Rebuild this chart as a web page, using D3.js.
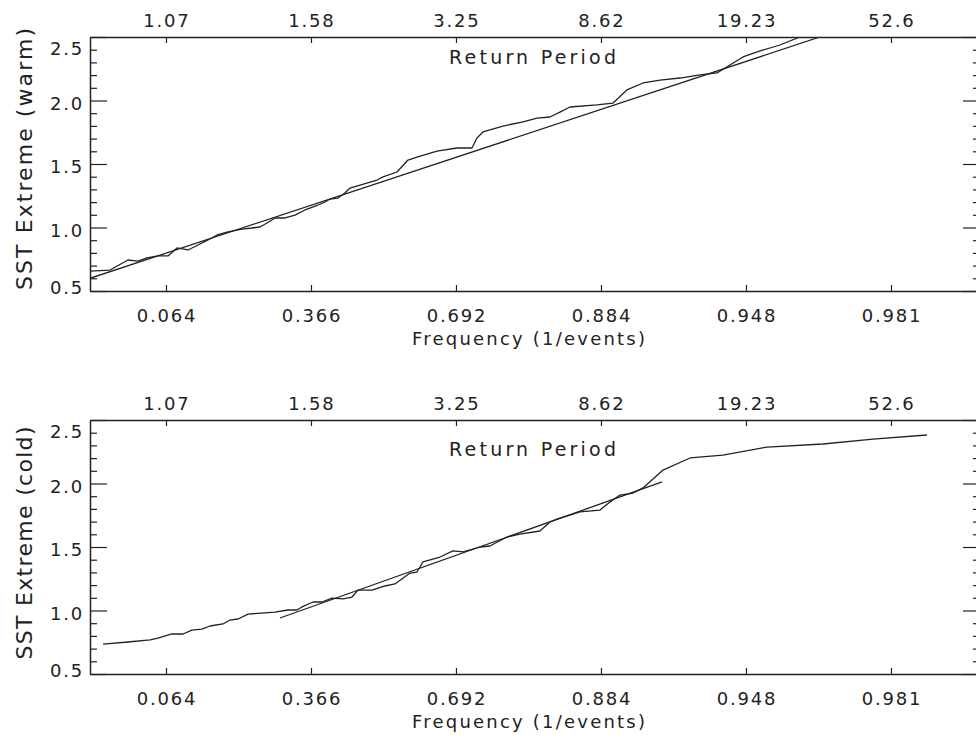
<!DOCTYPE html>
<html>
<head>
<meta charset="utf-8">
<script src="https://cdn.jsdelivr.net/npm/d3@7"></script>
<style>
  html, body { margin: 0; padding: 0; background: #fff; }
  svg { display: block; }
  text { font-family: "DejaVu Sans", sans-serif; fill: #222; }
</style>
</head>
<body>
<svg id="chart" width="976" height="743"></svg>
<script>
// ---- Data (x in Gumbel reduced-variate units; tick k sits at x = k) ----
const xTickValues = [-1, 0, 1, 2, 3, 4];
const freqLabels = ["0.064", "0.366", "0.692", "0.884", "0.948", "0.981"];
const periodLabels = ["1.07", "1.58", "3.25", "8.62", "19.23", "52.6"];
const yMajorTicks = [0.5, 1.0, 1.5, 2.0, 2.5];
const yMajorLabels = ["0.5", "1.0", "1.5", "2.0", "2.5"];

// warm extremes: empirical curve
const warmEmpX = [-1.524,-1.386,-1.262,-1.193,-1.131,-1.055,-0.986,-0.924,-0.848,-0.779,-0.710,-0.648,-0.572,-0.476,-0.407,-0.352,-0.303,-0.248,-0.179,-0.110,-0.041,0.048,0.097,0.131,0.186,0.234,0.269,0.455,0.497,0.593,0.669,0.731,0.869,1.007,1.110,1.145,1.186,1.324,1.462,1.559,1.648,1.717,1.786,1.972,2.083,2.179,2.290,2.407,2.545,2.683,2.800,2.890,2.979,3.097,3.234,3.372];
const warmEmpY = [0.657,0.665,0.744,0.736,0.760,0.776,0.776,0.839,0.823,0.862,0.902,0.941,0.965,0.988,0.996,1.004,1.035,1.075,1.075,1.098,1.138,1.177,1.201,1.224,1.232,1.272,1.311,1.374,1.398,1.437,1.531,1.555,1.602,1.626,1.626,1.705,1.752,1.799,1.831,1.862,1.870,1.909,1.949,1.965,1.980,2.083,2.138,2.161,2.177,2.201,2.217,2.280,2.343,2.390,2.437,2.500];
// warm extremes: fitted line
const warmFitX = [-1.524, 3.51];
const warmFitY = [0.60, 2.50];

// cold extremes: empirical curve
const coldEmpX = [-1.434,-1.262,-1.110,-1.055,-0.959,-0.883,-0.821,-0.752,-0.697,-0.607,-0.559,-0.503,-0.434,-0.338,-0.248,-0.159,-0.097,-0.062,0.014,0.076,0.145,0.221,0.283,0.324,0.421,0.510,0.579,0.683,0.731,0.772,0.890,0.979,1.048,1.166,1.234,1.352,1.441,1.579,1.648,1.697,1.855,1.993,2.062,2.131,2.221,2.290,2.428,2.614,2.841,3.145,3.531,3.876,4.248];
const coldEmpY = [0.736,0.752,0.768,0.783,0.815,0.815,0.846,0.854,0.878,0.894,0.925,0.933,0.972,0.980,0.988,1.004,1.004,1.028,1.067,1.067,1.098,1.091,1.106,1.161,1.161,1.193,1.209,1.295,1.303,1.382,1.421,1.469,1.461,1.500,1.508,1.579,1.602,1.626,1.697,1.720,1.776,1.791,1.854,1.909,1.925,1.965,2.106,2.201,2.224,2.287,2.311,2.350,2.382];
// cold extremes: fitted line
const coldFitX = [-0.214, 2.421];
const coldFitY = [0.941, 2.012];

// ---- Layout ----
const svg = d3.select("#chart");
const left = 90, right = 980;
const x = d3.scaleLinear().domain([-1.524, 4.614]).range([left, right]);

const panels = [
  { top: 37, bottom: 291, title: "SST Extreme (warm)", titleLen: 262, titleY: 159, rpY: 64,
    series: [[warmEmpX, warmEmpY], [warmFitX, warmFitY]] },
  { top: 420, bottom: 674, title: "SST Extreme (cold)", titleLen: 233, titleY: 543, rpY: 456,
    series: [[coldEmpX, coldEmpY], [coldFitX, coldFitY]] }
];

const ink = "#222";
const yMinorTicks = d3.range(0.5, 2.51, 0.1).filter(v => Math.abs(v * 2 - Math.round(v * 2)) > 1e-6);

panels.forEach((p, i) => {
  const y = d3.scaleLinear().domain([0.5, 2.5]).range([p.bottom, p.top]);
  const g = svg.append("g");

  // clip
  const clipId = "clip" + i;
  svg.append("clipPath").attr("id", clipId)
    .append("rect").attr("x", left).attr("y", p.top)
    .attr("width", right - left).attr("height", p.bottom - p.top);

  // data lines
  const line = d3.line().x(d => x(d[0])).y(d => y(d[1]));
  p.series.forEach(([xs, ys]) => {
    const pts = xs.map((v, k) => [v, ys[k]]);
    g.append("path").attr("d", line(pts))
      .attr("clip-path", `url(#${clipId})`)
      .attr("fill", "none").attr("stroke", ink)
      .attr("stroke-width", 1.3).attr("stroke-linejoin", "round");
  });

  // axes
  const styleAxis = sel => {
    sel.select(".domain").attr("stroke", ink).attr("stroke-width", 1.5);
    sel.selectAll(".tick line").attr("stroke", ink).attr("stroke-width", 1.2);
    sel.selectAll(".tick text").remove();
  };
  g.append("g").attr("transform", `translate(0,${p.bottom})`)
    .call(d3.axisBottom(x).tickValues(xTickValues).tickSizeInner(-6).tickSizeOuter(0).tickFormat(""))
    .call(styleAxis);
  g.append("g").attr("transform", `translate(0,${p.top})`)
    .call(d3.axisTop(x).tickValues(xTickValues).tickSizeInner(-6).tickSizeOuter(0).tickFormat(""))
    .call(styleAxis);
  g.append("g").attr("transform", `translate(${left},0)`)
    .call(d3.axisLeft(y).tickValues(yMajorTicks).tickSizeInner(-17).tickSizeOuter(0).tickFormat(""))
    .call(styleAxis);
  g.append("g").attr("transform", `translate(${left},0)`)
    .call(d3.axisLeft(y).tickValues(yMinorTicks).tickSizeInner(-7).tickSizeOuter(0).tickFormat(""))
    .call(styleAxis).call(s => s.select(".domain").remove());
  g.append("g").attr("transform", `translate(${right},0)`)
    .call(d3.axisRight(y).tickValues(yMajorTicks).tickSizeInner(-17).tickSizeOuter(0).tickFormat(""))
    .call(styleAxis);
  g.append("g").attr("transform", `translate(${right},0)`)
    .call(d3.axisRight(y).tickValues(yMinorTicks).tickSizeInner(-7).tickSizeOuter(0).tickFormat(""))
    .call(styleAxis).call(s => s.select(".domain").remove());

  // tick labels
  g.selectAll("text.freq").data(xTickValues).enter().append("text")
    .attr("class", "freq")
    .attr("x", d => x(d) + 1).attr("y", p.bottom + 31)
    .attr("text-anchor", "middle").attr("font-size", 18).attr("letter-spacing", 1.8)
    .text((d, k) => freqLabels[k]);
  g.selectAll("text.period").data(xTickValues).enter().append("text")
    .attr("class", "period")
    .attr("x", d => x(d) + 1).attr("y", p.top - 10)
    .attr("text-anchor", "middle").attr("font-size", 18).attr("letter-spacing", 1.8)
    .text((d, k) => periodLabels[k]);
  g.selectAll("text.ylab").data(yMajorTicks).enter().append("text")
    .attr("class", "ylab")
    .attr("x", 84)
    .attr("y", d => Math.min(Math.max(y(d) + 9, p.top + 18), p.bottom + 3))
    .attr("text-anchor", "end").attr("font-size", 18).attr("letter-spacing", 1.8)
    .text((d, k) => yMajorLabels[k]);

  // titles
  g.append("text").attr("x", (x(1) + x(2)) / 2 + 4).attr("y", p.rpY)
    .attr("text-anchor", "middle").attr("font-size", 19)
    .attr("textLength", 167).attr("lengthAdjust", "spacing")
    .text("Return Period");
  g.append("text").attr("x", (x(1) + x(2)) / 2).attr("y", p.bottom + 54)
    .attr("text-anchor", "middle").attr("font-size", 18)
    .attr("textLength", 233).attr("lengthAdjust", "spacing")
    .text("Frequency (1/events)");
  g.append("text")
    .attr("transform", `translate(32,${p.titleY}) rotate(-90)`)
    .attr("text-anchor", "middle").attr("font-size", 22)
    .attr("textLength", p.titleLen).attr("lengthAdjust", "spacing")
    .text(p.title);
});
</script>
</body>
</html>
